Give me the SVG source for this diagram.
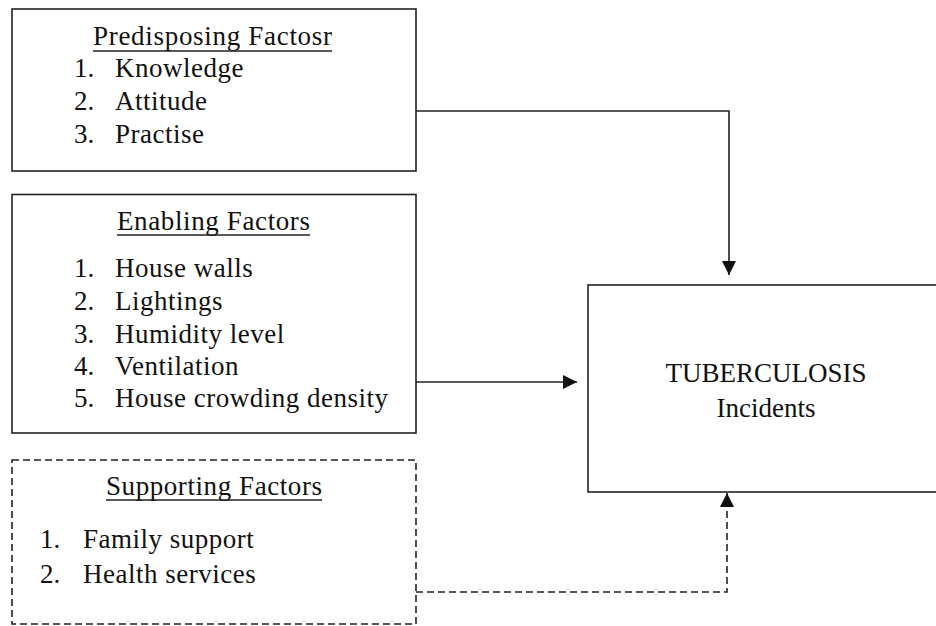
<svg xmlns="http://www.w3.org/2000/svg" width="936" height="626" viewBox="0 0 936 626">
<style>
text{font-family:'Liberation Serif','Times New Roman',serif;font-size:27px;fill:#111}
.it{letter-spacing:0.5px}
.box{fill:#fff;stroke:#222;stroke-width:1.6}
.dash{stroke-dasharray:7 4}
.ln{fill:none;stroke:#222;stroke-width:1.6}
.ul{stroke:#222;stroke-width:1.6}
</style>
<defs>
<marker id="ah" viewBox="0 0 14 14" refX="14" refY="7" markerWidth="14" markerHeight="14" markerUnits="userSpaceOnUse" orient="auto">
<path d="M0,0 L14,7 L0,14 Z" fill="#111"/>
</marker>
</defs>
<rect width="936" height="626" fill="#fff"/>
<g id="predisposing">
<rect class="box" x="12" y="9" width="404" height="162"/>
<text x="93" y="45" textLength="239" lengthAdjust="spacing">Predisposing Factosr</text>
<line class="ul" x1="93" y1="51" x2="332" y2="51"/>
<text x="74" y="77">1.</text><text class="it" x="115" y="77">Knowledge</text>
<text x="74" y="110">2.</text><text class="it" x="115" y="110">Attitude</text>
<text x="74" y="143">3.</text><text class="it" x="115" y="143">Practise</text>
</g>
<g id="enabling">
<rect class="box" x="12" y="194.5" width="404" height="238.5"/>
<text x="117" y="230" textLength="193" lengthAdjust="spacing">Enabling Factors</text>
<line class="ul" x1="117" y1="235" x2="310" y2="235"/>
<text x="74" y="277">1.</text><text class="it" x="115" y="277">House walls</text>
<text x="74" y="310">2.</text><text class="it" x="115" y="310">Lightings</text>
<text x="74" y="343">3.</text><text class="it" x="115" y="343">Humidity level</text>
<text x="74" y="375">4.</text><text class="it" x="115" y="375">Ventilation</text>
<text x="74" y="407">5.</text><text class="it" x="115" y="407">House crowding density</text>
</g>
<g id="supporting">
<rect class="box dash" x="12" y="460" width="404" height="164"/>
<text x="106" y="495" textLength="216" lengthAdjust="spacing">Supporting Factors</text>
<line class="ul" x1="106" y1="500" x2="322" y2="500"/>
<text x="40" y="548">1.</text><text class="it" x="83" y="548">Family support</text>
<text x="40" y="583">2.</text><text class="it" x="83" y="583">Health services</text>
</g>
<g id="tuberculosis">
<rect class="box" x="588" y="285" width="360" height="207"/>
<text x="766" y="382" text-anchor="middle">TUBERCULOSIS</text>
<text x="766" y="417" text-anchor="middle">Incidents</text>
</g>
<g id="connectors">
<path class="ln" d="M416,111 H729 V275" marker-end="url(#ah)"/>
<path class="ln" d="M416,382 H577" marker-end="url(#ah)"/>
<path class="ln dash" d="M416,592 H727 V493" marker-end="url(#ah)"/>
</g>
</svg>
